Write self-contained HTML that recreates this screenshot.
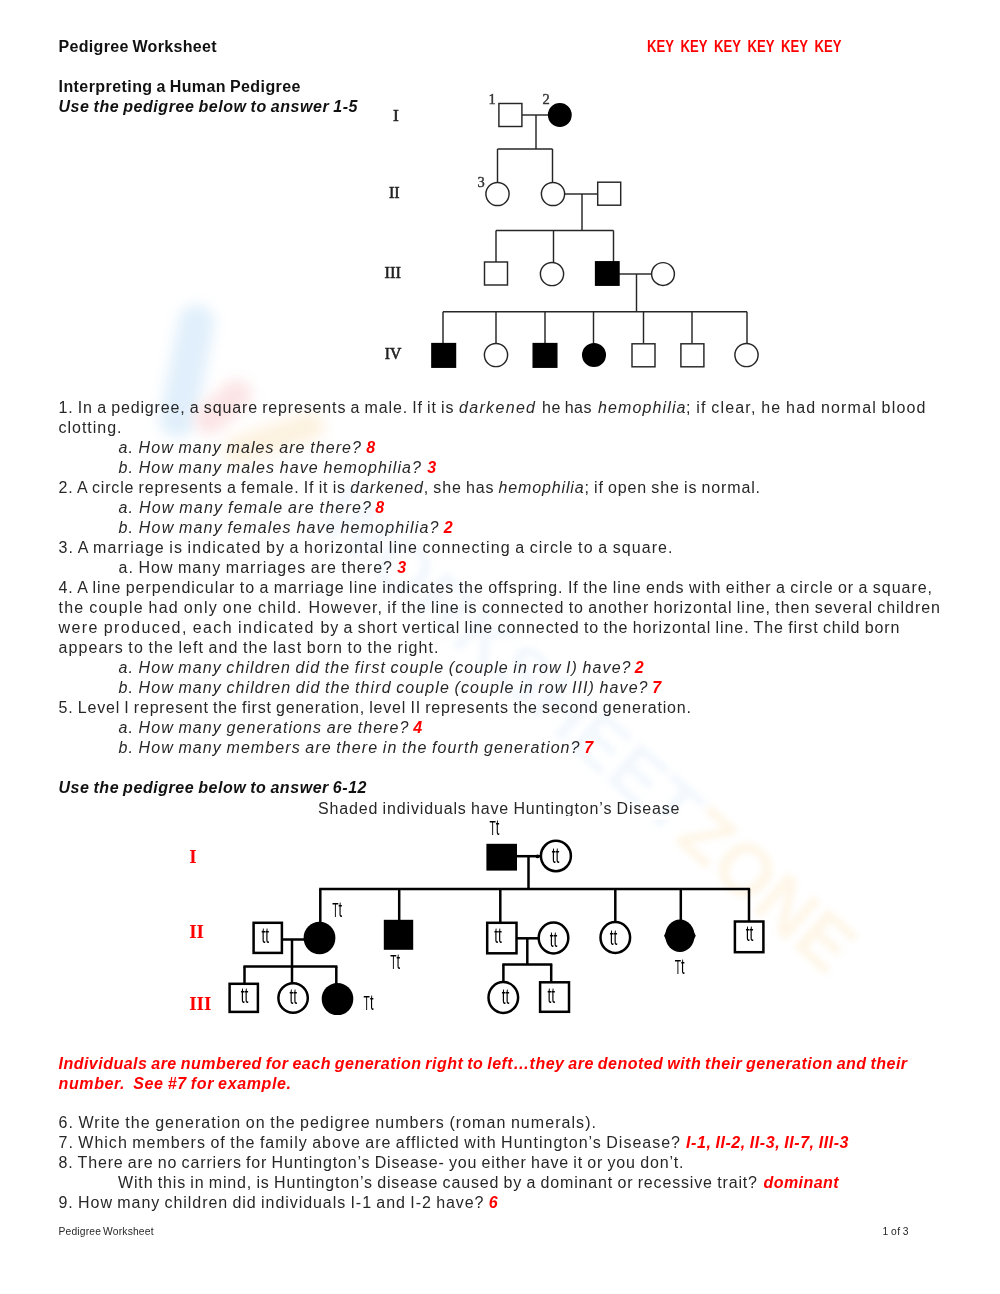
<!DOCTYPE html><html><head><meta charset="utf-8"><title>Pedigree Worksheet</title><style>
html,body{margin:0;padding:0;background:#fff;}
body{width:1000px;height:1294px;position:relative;overflow:hidden;font-family:"Liberation Sans",sans-serif;color:#272727;}
.t{position:absolute;white-space:pre;line-height:20px;height:20px;}
.i{font-style:italic}.b{font-weight:bold;color:#111}.bi{font-weight:bold;font-style:italic;color:#111}
.a{font-weight:bold;font-style:italic;color:#f00}.kb{font-weight:bold;color:#f00}
svg{position:absolute;left:0;top:0}
.wm{position:absolute}
#pg{position:absolute;left:0;top:0;width:1000px;height:1294px;will-change:transform;}
</style></head><body>
<div id="pg">
<div class="wm" style="left:0;top:0;transform-origin:0 0;transform:translate(354px,475px) rotate(41.5deg);font:bold 74px/74px 'Liberation Sans',sans-serif;color:#f3f8fd;white-space:nowrap;filter:blur(3px)">WORKSHEET<span style="color:#fef6e8">ZONE</span></div>
<div class="wm" style="left:169px;top:304px;width:36px;height:134px;border-radius:18px;background:#e0effb;transform:rotate(11deg);filter:blur(7px)"></div>
<div class="wm" style="left:190px;top:392px;width:66px;height:30px;border-radius:15px;background:#fce4e5;transform:rotate(-42deg);filter:blur(7px)"></div>
<div class="wm" style="left:222px;top:424px;width:104px;height:28px;border-radius:14px;background:#fdf2e0;transform:rotate(-18deg);filter:blur(7px)"></div>
<svg width="1000" height="1294" viewBox="0 0 1000 1294">
<g>
<line x1="522" y1="115" x2="548" y2="115" stroke="#262626" stroke-width="1.45"/>
<line x1="536" y1="115" x2="536" y2="149" stroke="#262626" stroke-width="1.45"/>
<rect x="498.9" y="103.5" width="23" height="23" fill="#fff" stroke="#262626" stroke-width="1.45"/>
<circle cx="559.8" cy="115" r="11.2" fill="#000" stroke="#000" stroke-width="1.45"/>
<line x1="497.5" y1="149" x2="552.5" y2="149" stroke="#262626" stroke-width="1.45"/>
<line x1="497.5" y1="149" x2="497.5" y2="182" stroke="#262626" stroke-width="1.45"/>
<line x1="552.5" y1="149" x2="552.5" y2="182" stroke="#262626" stroke-width="1.45"/>
<line x1="565" y1="194" x2="597" y2="194" stroke="#262626" stroke-width="1.45"/>
<line x1="582" y1="194" x2="582" y2="230.5" stroke="#262626" stroke-width="1.45"/>
<circle cx="497.5" cy="194" r="11.6" fill="#fff" stroke="#262626" stroke-width="1.45"/>
<circle cx="553" cy="194" r="11.6" fill="#fff" stroke="#262626" stroke-width="1.45"/>
<rect x="597.7" y="182.2" width="23" height="23" fill="#fff" stroke="#262626" stroke-width="1.45"/>
<line x1="496" y1="230.5" x2="613.5" y2="230.5" stroke="#262626" stroke-width="1.45"/>
<line x1="496" y1="230.5" x2="496" y2="262" stroke="#262626" stroke-width="1.45"/>
<line x1="553.5" y1="230.5" x2="553.5" y2="262" stroke="#262626" stroke-width="1.45"/>
<line x1="613.5" y1="230.5" x2="613.5" y2="262" stroke="#262626" stroke-width="1.45"/>
<line x1="619" y1="274" x2="651" y2="274" stroke="#262626" stroke-width="1.45"/>
<line x1="636.5" y1="274" x2="636.5" y2="311.8" stroke="#262626" stroke-width="1.45"/>
<rect x="484.5" y="262.0" width="23" height="23" fill="#fff" stroke="#262626" stroke-width="1.45"/>
<circle cx="552" cy="274" r="11.6" fill="#fff" stroke="#262626" stroke-width="1.45"/>
<rect x="595.5999999999999" y="261.8" width="23.4" height="23.4" fill="#000" stroke="#000" stroke-width="1.45"/>
<circle cx="663" cy="274" r="11.4" fill="#fff" stroke="#262626" stroke-width="1.45"/>
<line x1="443" y1="311.8" x2="747" y2="311.8" stroke="#262626" stroke-width="1.45"/>
<line x1="443" y1="311.8" x2="443" y2="343" stroke="#262626" stroke-width="1.45"/>
<line x1="496" y1="311.8" x2="496" y2="343" stroke="#262626" stroke-width="1.45"/>
<line x1="545" y1="311.8" x2="545" y2="343" stroke="#262626" stroke-width="1.45"/>
<line x1="593.5" y1="311.8" x2="593.5" y2="343" stroke="#262626" stroke-width="1.45"/>
<line x1="643.5" y1="311.8" x2="643.5" y2="343" stroke="#262626" stroke-width="1.45"/>
<line x1="692" y1="311.8" x2="692" y2="343" stroke="#262626" stroke-width="1.45"/>
<line x1="747" y1="311.8" x2="747" y2="343" stroke="#262626" stroke-width="1.45"/>
<rect x="431.9" y="343.59999999999997" width="23.6" height="23.6" fill="#000" stroke="#000" stroke-width="1.45"/>
<circle cx="496" cy="355" r="11.6" fill="#fff" stroke="#262626" stroke-width="1.45"/>
<rect x="533.2" y="343.59999999999997" width="23.6" height="23.6" fill="#000" stroke="#000" stroke-width="1.45"/>
<circle cx="594" cy="355" r="11.3" fill="#000" stroke="#000" stroke-width="1.45"/>
<rect x="632.0" y="343.8" width="23" height="23" fill="#fff" stroke="#262626" stroke-width="1.45"/>
<rect x="680.9" y="343.8" width="23" height="23" fill="#fff" stroke="#262626" stroke-width="1.45"/>
<circle cx="746.5" cy="355" r="11.6" fill="#fff" stroke="#262626" stroke-width="1.45"/>
<text x="393" y="121.4" font-family='"Liberation Serif",serif' font-size="17" fill="#222" stroke="#222" stroke-width="0.6" textLength="5.8" lengthAdjust="spacingAndGlyphs">I</text>
<text x="389" y="198" font-family='"Liberation Serif",serif' font-size="17" fill="#222" stroke="#222" stroke-width="0.6" textLength="10.6" lengthAdjust="spacingAndGlyphs">II</text>
<text x="384.6" y="278.1" font-family='"Liberation Serif",serif' font-size="17" fill="#222" stroke="#222" stroke-width="0.6" textLength="16.4" lengthAdjust="spacingAndGlyphs">III</text>
<text x="384.8" y="359.1" font-family='"Liberation Serif",serif' font-size="17" fill="#222" stroke="#222" stroke-width="0.6" textLength="16.6" lengthAdjust="spacingAndGlyphs">IV</text>
<text x="488.6" y="104.4" font-family='"Liberation Serif",serif' font-size="14.5" fill="#333" stroke="#333" stroke-width="0.4" >1</text>
<text x="542.4" y="104.4" font-family='"Liberation Serif",serif' font-size="14.5" fill="#333" stroke="#333" stroke-width="0.4" >2</text>
<text x="477.6" y="187.4" font-family='"Liberation Serif",serif' font-size="14.5" fill="#333" stroke="#333" stroke-width="0.4" >3</text>
</g>
<g>
<line x1="516" y1="856.2" x2="541" y2="856.2" stroke="#000" stroke-width="2.5"/>
<line x1="528.5" y1="856.2" x2="528.5" y2="889" stroke="#000" stroke-width="2.5"/>
<line x1="319.2" y1="888.9" x2="750.1" y2="888.9" stroke="#000" stroke-width="2.5"/>
<line x1="320.3" y1="888.9" x2="320.3" y2="923" stroke="#000" stroke-width="2.5"/>
<line x1="399.2" y1="888.9" x2="399.2" y2="921" stroke="#000" stroke-width="2.5"/>
<line x1="500.3" y1="888.9" x2="500.3" y2="923" stroke="#000" stroke-width="2.5"/>
<line x1="615.3" y1="888.9" x2="615.3" y2="922" stroke="#000" stroke-width="2.5"/>
<line x1="680.8" y1="888.9" x2="680.8" y2="921" stroke="#000" stroke-width="2.5"/>
<line x1="749" y1="888.9" x2="749" y2="922" stroke="#000" stroke-width="2.5"/>
<line x1="282" y1="939.5" x2="305" y2="939.5" stroke="#000" stroke-width="2.5"/>
<line x1="292" y1="939.5" x2="292" y2="984" stroke="#000" stroke-width="2.5"/>
<line x1="243.4" y1="966.5" x2="337.4" y2="966.5" stroke="#000" stroke-width="2.5"/>
<line x1="244.5" y1="966.5" x2="244.5" y2="984" stroke="#000" stroke-width="2.5"/>
<line x1="336.3" y1="966.5" x2="336.3" y2="985" stroke="#000" stroke-width="2.5"/>
<line x1="516" y1="938.3" x2="539" y2="938.3" stroke="#000" stroke-width="2.5"/>
<line x1="527.3" y1="938.3" x2="527.3" y2="964.5" stroke="#000" stroke-width="2.5"/>
<line x1="502.3" y1="964.5" x2="552.3" y2="964.5" stroke="#000" stroke-width="2.5"/>
<line x1="503.4" y1="964.5" x2="503.4" y2="983" stroke="#000" stroke-width="2.5"/>
<line x1="551.2" y1="964.5" x2="551.2" y2="983" stroke="#000" stroke-width="2.5"/>
<circle cx="537.5" cy="856.4" r="1.9" fill="#000"/>
<rect x="486.4" y="843.8" width="30.6" height="26.8" fill="#000"/>
<ellipse cx="555.9" cy="856" rx="15.0" ry="15.2" fill="#fff" stroke="#000" stroke-width="2.5"/>
<rect x="253.6" y="922.8" width="28.3" height="30.1" fill="#fff" stroke="#000" stroke-width="2.5"/>
<ellipse cx="319.5" cy="938" rx="15.9" ry="16.3" fill="#000"/>
<rect x="383.8" y="919.8" width="29.4" height="30.0" fill="#000"/>
<rect x="487.2" y="922.8" width="29.3" height="30.5" fill="#fff" stroke="#000" stroke-width="2.5"/>
<ellipse cx="553.5" cy="938" rx="14.8" ry="15.5" fill="#fff" stroke="#000" stroke-width="2.5"/>
<ellipse cx="615.3" cy="937.5" rx="14.8" ry="15.5" fill="#fff" stroke="#000" stroke-width="2.5"/>
<ellipse cx="679.9" cy="935.7" rx="14.6" ry="16.3" fill="#000"/><path d="M664 935.7 L669.5 925.5 L669.5 946 Z M695.8 935.7 L690.3 925.5 L690.3 946 Z" fill="#000"/>
<rect x="734.9" y="921.5" width="28.5" height="30.7" fill="#fff" stroke="#000" stroke-width="2.5"/>
<rect x="229.6" y="983.8" width="28.3" height="28.1" fill="#fff" stroke="#000" stroke-width="2.5"/>
<ellipse cx="293.1" cy="998" rx="14.7" ry="14.8" fill="#fff" stroke="#000" stroke-width="2.5"/>
<ellipse cx="337.5" cy="999" rx="15.8" ry="16.1" fill="#000"/>
<ellipse cx="503.3" cy="997.5" rx="14.8" ry="15.5" fill="#fff" stroke="#000" stroke-width="2.5"/>
<rect x="540.1" y="982.3" width="28.9" height="29.5" fill="#fff" stroke="#000" stroke-width="2.5"/>
<text transform="translate(489.4 834.9) scale(0.5 1)" font-family='"Liberation Sans",sans-serif' font-size="20.6" fill="#000">T</text>
<text transform="translate(495.8 834.9) scale(0.6 1)" font-family='"Liberation Sans",sans-serif' font-size="21.5" fill="#000">t</text>
<text transform="translate(332.2 917.3) scale(0.5 1)" font-family='"Liberation Sans",sans-serif' font-size="20.6" fill="#000">T</text>
<text transform="translate(338.6 917.3) scale(0.6 1)" font-family='"Liberation Sans",sans-serif' font-size="21.5" fill="#000">t</text>
<text transform="translate(390.2 968.7) scale(0.5 1)" font-family='"Liberation Sans",sans-serif' font-size="20.6" fill="#000">T</text>
<text transform="translate(396.6 968.7) scale(0.6 1)" font-family='"Liberation Sans",sans-serif' font-size="21.5" fill="#000">t</text>
<text transform="translate(674.7 973.5) scale(0.5 1)" font-family='"Liberation Sans",sans-serif' font-size="20.6" fill="#000">T</text>
<text transform="translate(681.1 973.5) scale(0.6 1)" font-family='"Liberation Sans",sans-serif' font-size="21.5" fill="#000">t</text>
<text transform="translate(363.6 1010.3) scale(0.5 1)" font-family='"Liberation Sans",sans-serif' font-size="20.6" fill="#000">T</text>
<text transform="translate(370.0 1010.3) scale(0.6 1)" font-family='"Liberation Sans",sans-serif' font-size="21.5" fill="#000">t</text>
<text transform="translate(261.4 943.2) scale(0.64 1)" font-family='"Liberation Sans",sans-serif' font-size="21.5" fill="#000">tt</text>
<text transform="translate(240.8 1003.2) scale(0.64 1)" font-family='"Liberation Sans",sans-serif' font-size="21.5" fill="#000">tt</text>
<text transform="translate(289.4 1004.4) scale(0.64 1)" font-family='"Liberation Sans",sans-serif' font-size="21.5" fill="#000">tt</text>
<text transform="translate(551.8 862.6) scale(0.64 1)" font-family='"Liberation Sans",sans-serif' font-size="21.5" fill="#000">tt</text>
<text transform="translate(494.2 942.8) scale(0.64 1)" font-family='"Liberation Sans",sans-serif' font-size="21.5" fill="#000">tt</text>
<text transform="translate(549.8 947.2) scale(0.64 1)" font-family='"Liberation Sans",sans-serif' font-size="21.5" fill="#000">tt</text>
<text transform="translate(609.8 944.6) scale(0.64 1)" font-family='"Liberation Sans",sans-serif' font-size="21.5" fill="#000">tt</text>
<text transform="translate(745.8 940.8) scale(0.64 1)" font-family='"Liberation Sans",sans-serif' font-size="21.5" fill="#000">tt</text>
<text transform="translate(501.8 1004.4) scale(0.64 1)" font-family='"Liberation Sans",sans-serif' font-size="21.5" fill="#000">tt</text>
<text transform="translate(547.4 1003.2) scale(0.64 1)" font-family='"Liberation Sans",sans-serif' font-size="21.5" fill="#000">tt</text>
<text x="189.2" y="863" font-family='"Liberation Serif",serif' font-size="19" fill="#f00" stroke="#f00" stroke-width="0" font-weight="bold">I</text>
<text x="189.2" y="937.6" font-family='"Liberation Serif",serif' font-size="19" fill="#f00" stroke="#f00" stroke-width="0" font-weight="bold">II</text>
<text x="189.2" y="1010.2" font-family='"Liberation Serif",serif' font-size="19" fill="#f00" stroke="#f00" stroke-width="0" font-weight="bold">III</text>
</g>
</svg>
<div class="t" style="left:58.5px;top:36.96px;font-size:16px;letter-spacing:0.321px;word-spacing:-1.000px;"><span class="b">Pedigree Worksheet</span></div>
<div class="t" style="left:647.0px;top:36.86px;font-size:16px;letter-spacing:0.000px;word-spacing:3.805px;transform:scaleX(0.82);transform-origin:0 0;"><span class="kb">KEY KEY KEY KEY KEY KEY</span></div>
<div class="t" style="left:58.5px;top:76.96px;font-size:16px;letter-spacing:0.431px;word-spacing:-1.000px;"><span class="b">Interpreting a Human Pedigree</span></div>
<div class="t" style="left:58.5px;top:96.96px;font-size:16px;letter-spacing:0.559px;word-spacing:-1.000px;"><span class="bi">Use the pedigree below to answer 1-5</span></div>
<div class="t" style="left:58.5px;top:397.96px;font-size:16px;letter-spacing:0.847px;word-spacing:-1.000px;">1. In a pedigree, a square represents a male. If it is</div>
<div class="t" style="left:459.0px;top:397.96px;font-size:16px;letter-spacing:1.326px;word-spacing:-1.000px;"><span class="i">darkened</span></div>
<div class="t" style="left:542.0px;top:397.96px;font-size:16px;letter-spacing:0.491px;word-spacing:-1.000px;">he has</div>
<div class="t" style="left:598.0px;top:397.96px;font-size:16px;letter-spacing:1.123px;word-spacing:-1.000px;"><span class="i">hemophilia</span></div>
<div class="t" style="left:686.0px;top:397.96px;font-size:16px;letter-spacing:1.186px;word-spacing:-1.000px;">; if clear, he had normal blood</div>
<div class="t" style="left:58.5px;top:417.96px;font-size:16px;letter-spacing:0.982px;word-spacing:-1.000px;">clotting.</div>
<div class="t" style="left:118.5px;top:437.96px;font-size:16px;letter-spacing:1.097px;word-spacing:-1.000px;"><span class="i">a. How many males are there?</span></div>
<div class="t" style="left:366.2px;top:437.96px;font-size:16px;letter-spacing:0.000px;word-spacing:-1.000px;"><span class="a">8</span></div>
<div class="t" style="left:118.5px;top:457.96px;font-size:16px;letter-spacing:1.125px;word-spacing:-1.000px;"><span class="i">b. How many males have hemophilia?</span></div>
<div class="t" style="left:427.2px;top:457.96px;font-size:16px;letter-spacing:0.000px;word-spacing:-1.000px;"><span class="a">3</span></div>
<div class="t" style="left:58.5px;top:477.96px;font-size:16px;letter-spacing:0.850px;word-spacing:-1.000px;">2. A circle represents a female. If it is <span class="i">darkened</span>, she has <span class="i">hemophilia</span>; if open she is normal.</div>
<div class="t" style="left:118.5px;top:497.96px;font-size:16px;letter-spacing:1.224px;word-spacing:-1.000px;"><span class="i">a. How many female are there?</span></div>
<div class="t" style="left:375.2px;top:497.96px;font-size:16px;letter-spacing:0.000px;word-spacing:-1.000px;"><span class="a">8</span></div>
<div class="t" style="left:118.5px;top:517.96px;font-size:16px;letter-spacing:1.180px;word-spacing:-1.000px;"><span class="i">b. How many females have hemophilia?</span></div>
<div class="t" style="left:443.7px;top:517.96px;font-size:16px;letter-spacing:0.000px;word-spacing:-1.000px;"><span class="a">2</span></div>
<div class="t" style="left:58.5px;top:537.96px;font-size:16px;letter-spacing:1.082px;word-spacing:-1.000px;">3. A marriage is indicated by a horizontal line connecting a circle to a square.</div>
<div class="t" style="left:118.5px;top:557.96px;font-size:16px;letter-spacing:1.038px;word-spacing:-1.000px;">a. How many marriages are there?</div>
<div class="t" style="left:397.2px;top:557.96px;font-size:16px;letter-spacing:0.000px;word-spacing:-1.000px;"><span class="a">3</span></div>
<div class="t" style="left:58.5px;top:577.96px;font-size:16px;letter-spacing:0.974px;word-spacing:-1.000px;">4. A line perpendicular to a marriage line indicates the offspring. If the line ends with either a circle or a square,</div>
<div class="t" style="left:58.5px;top:597.96px;font-size:16px;letter-spacing:1.251px;word-spacing:-1.000px;">the couple had only one child.</div>
<div class="t" style="left:308.5px;top:597.96px;font-size:16px;letter-spacing:0.949px;word-spacing:-1.000px;">However, if the line is connected to another horizontal line, then several children</div>
<div class="t" style="left:58.5px;top:617.96px;font-size:16px;letter-spacing:1.431px;word-spacing:-1.000px;">were produced, each indicated</div>
<div class="t" style="left:320.5px;top:617.96px;font-size:16px;letter-spacing:0.912px;word-spacing:-1.000px;">by a short vertical line connected to the horizontal line. The first child born</div>
<div class="t" style="left:58.5px;top:637.96px;font-size:16px;letter-spacing:1.076px;word-spacing:-1.000px;">appears to the left and the last born to the right.</div>
<div class="t" style="left:118.5px;top:657.96px;font-size:16px;letter-spacing:1.087px;word-spacing:-1.000px;"><span class="i">a. How many children did the first couple (couple in row I) have?</span></div>
<div class="t" style="left:634.7px;top:657.96px;font-size:16px;letter-spacing:0.000px;word-spacing:-1.000px;"><span class="a">2</span></div>
<div class="t" style="left:118.5px;top:677.96px;font-size:16px;letter-spacing:1.096px;word-spacing:-1.000px;"><span class="i">b. How many children did the third couple (couple in row III) have?</span></div>
<div class="t" style="left:652.2px;top:677.96px;font-size:16px;letter-spacing:0.000px;word-spacing:-1.000px;"><span class="a">7</span></div>
<div class="t" style="left:58.5px;top:697.96px;font-size:16px;letter-spacing:0.811px;word-spacing:-1.000px;">5. Level I represent the first generation, level II represents the second generation.</div>
<div class="t" style="left:118.5px;top:717.96px;font-size:16px;letter-spacing:1.097px;word-spacing:-1.000px;"><span class="i">a. How many generations are there?</span></div>
<div class="t" style="left:413.2px;top:717.96px;font-size:16px;letter-spacing:0.000px;word-spacing:-1.000px;"><span class="a">4</span></div>
<div class="t" style="left:118.5px;top:737.96px;font-size:16px;letter-spacing:1.095px;word-spacing:-1.000px;"><span class="i">b. How many members are there in the fourth generation?</span></div>
<div class="t" style="left:584.2px;top:737.96px;font-size:16px;letter-spacing:0.000px;word-spacing:-1.000px;"><span class="a">7</span></div>
<div class="t" style="left:58.5px;top:777.96px;font-size:16px;letter-spacing:0.547px;word-spacing:-1.000px;"><span class="bi">Use the pedigree below to answer 6-12</span></div>
<div class="t" style="left:318.0px;top:799.06px;font-size:16px;letter-spacing:0.853px;word-spacing:-1.000px;">Shaded individuals have Huntington’s Disease</div>
<div class="t" style="left:58.5px;top:1053.86px;font-size:16px;letter-spacing:0.481px;word-spacing:-1.000px;"><span class="a">Individuals are numbered for each generation right to left…they are denoted with their generation and their</span></div>
<div class="t" style="left:58.5px;top:1073.86px;font-size:16px;letter-spacing:0.628px;word-spacing:-1.000px;"><span class="a">number.  See #7 for example.</span></div>
<div class="t" style="left:58.5px;top:1112.86px;font-size:16px;letter-spacing:1.053px;word-spacing:-1.000px;">6. Write the generation on the pedigree numbers (roman numerals).</div>
<div class="t" style="left:58.5px;top:1132.86px;font-size:16px;letter-spacing:1.005px;word-spacing:-1.000px;">7. Which members of the family above are afflicted with Huntington’s Disease?</div>
<div class="t" style="left:686.0px;top:1132.86px;font-size:16px;letter-spacing:0.568px;word-spacing:-1.000px;"><span class="a">I-1, II-2, II-3, II-7, III-3</span></div>
<div class="t" style="left:58.5px;top:1152.86px;font-size:16px;letter-spacing:0.848px;word-spacing:-1.000px;">8. There are no carriers for Huntington’s Disease- you either have it or you don’t.</div>
<div class="t" style="left:118.0px;top:1172.86px;font-size:16px;letter-spacing:0.851px;word-spacing:-1.000px;">With this in mind, is Huntington’s disease caused by a dominant or recessive trait?</div>
<div class="t" style="left:763.5px;top:1172.86px;font-size:16px;letter-spacing:0.429px;word-spacing:-1.000px;"><span class="a">dominant</span></div>
<div class="t" style="left:58.5px;top:1192.86px;font-size:16px;letter-spacing:0.939px;word-spacing:-1.000px;">9. How many children did individuals I-1 and I-2 have?</div>
<div class="t" style="left:488.7px;top:1192.86px;font-size:16px;letter-spacing:0.000px;word-spacing:-1.000px;"><span class="a">6</span></div>
<div class="t" style="left:58.5px;top:1221.73px;font-size:10.3px;letter-spacing:0.170px;word-spacing:-1.000px;">Pedigree Worksheet</div>
<div class="t" style="left:882.5px;top:1221.73px;font-size:10.3px;letter-spacing:0.447px;word-spacing:-1.000px;">1 of 3</div>
<div class="wm" style="left:312px;top:815.6px;width:372px;height:4.4px;background:#fff"></div>
</div></body></html>
